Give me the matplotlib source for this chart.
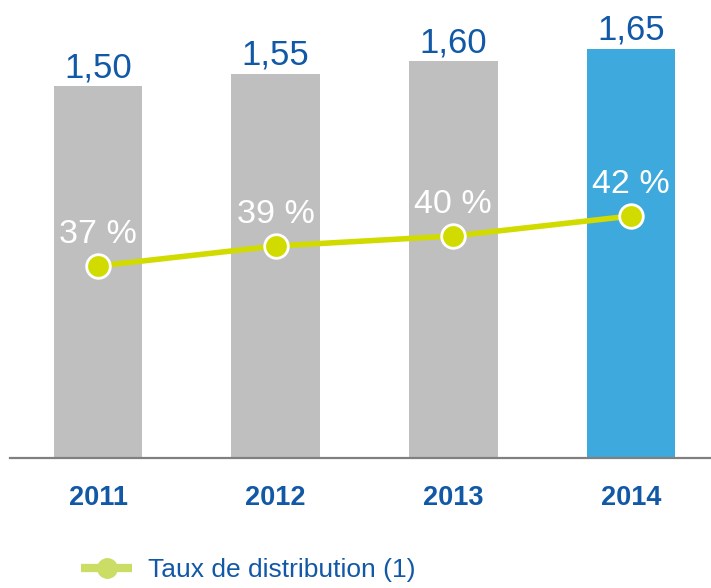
import matplotlib
matplotlib.use("Agg")
import matplotlib.pyplot as plt
from matplotlib.lines import Line2D

years = ["2011", "2012", "2013", "2014"]
dividends = [1.50, 1.55, 1.60, 1.65]
dividend_labels = ["1,50", "1,55", "1,60", "1,65"]
payout = [37, 39, 40, 42]
payout_labels = ["37 %", "39 %", "40 %", "42 %"]
legend_label = "Taux de distribution (1)"

GRAY = "#BFBFBF"
BLUE = "#3DA9DD"
DARK = "#1158A6"
LIME = "#D2DB00"
LIME_LEGEND = "#CCDD66"

plt.rcParams['font.family'] = ['Liberation Sans', 'DejaVu Sans']

fig = plt.figure(figsize=(7.11, 5.88), dpi=100)
ax = fig.add_axes([0, 0, 1, 1])
ax.set_xlim(-0.5516, 3.450)
ax.set_ylim(-0.524, 1.847)
ax.axis('off')

x = list(range(len(years)))
colors = [GRAY] * (len(years) - 1) + [BLUE]
ax.bar(x, dividends, width=0.5, color=colors, zorder=1)
ax.axhline(0, xmin=10 / 711, xmax=1, color="#808080", lw=1.6, zorder=2)

for xi, v, lab in zip(x, dividends, dividend_labels):
    ax.annotate(lab, (xi, v), xytext=(0, 9), textcoords='offset pixels',
                ha='center', va='baseline', fontsize=25, color=DARK)

for xi, yr in zip(x, years):
    ax.annotate(yr, (xi, 0), xytext=(0, -47), textcoords='offset pixels',
                ha='center', va='baseline', fontsize=19.5, fontweight='bold', color=DARK)

ax2 = ax.twinx()
ax2.set_position([0, 0, 1, 1])
ax2.set_xlim(ax.get_xlim())
ax2.set_ylim(4.8, 63.6)
ax2.axis('off')
ax2.plot(x, payout, color=LIME, lw=4, zorder=3, solid_capstyle='butt')
ax2.plot(x, payout, 'o', ms=17, mfc=LIME, mec='white', mew=2, zorder=4)
for xi, v, lab in zip(x, payout, payout_labels):
    ax2.annotate(lab, (xi, v), xytext=(0, 23), textcoords='offset pixels',
                 ha='center', va='baseline', fontsize=24.5, color='white', zorder=5)

handle = Line2D([], [], color=LIME_LEGEND, lw=6, marker='o', ms=14,
                mfc=LIME_LEGEND, mec=LIME_LEGEND, solid_capstyle='butt')
fig.legend([handle], [legend_label], loc='center left',
           bbox_to_anchor=(81 / 711, (588 - 570) / 588), frameon=False,
           fontsize=19, handlelength=1.95, handletextpad=0.6, borderpad=0,
           borderaxespad=0, labelcolor=DARK)

fig.savefig("out.png", dpi=100)
